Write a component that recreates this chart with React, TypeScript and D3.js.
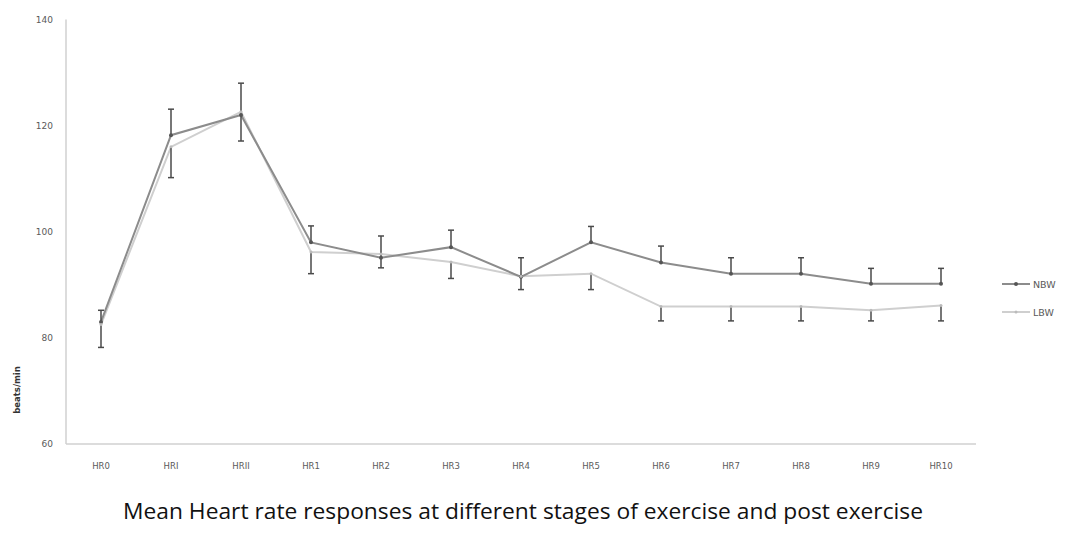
import { scaleBand, scaleLinear, line } from 'd3';

const WIDTH = 1066;
const HEIGHT = 535;

const categories = ['HR0', 'HRI', 'HRII', 'HR1', 'HR2', 'HR3', 'HR4', 'HR5', 'HR6', 'HR7', 'HR8', 'HR9', 'HR10'];
const nbwValues = [83, 118.2, 122, 98, 95.1, 97.1, 91.5, 98, 94.2, 92.1, 92.1, 90.2, 90.2];
const nbwErrors = [2.2, 4.9, 6, 3.1, 4.1, 3.2, 3.6, 3, 3.1, 3, 3, 2.9, 2.9];
const lbwValues = [82.5, 116, 122.6, 96.2, 95.8, 94.3, 91.6, 92.1, 85.9, 85.9, 85.9, 85.2, 86.1];
const lbwErrors = [4.3, 5.8, 5.5, 4.1, 2.6, 3.1, 2.5, 3, 2.7, 2.7, 2.7, 2, 2.9];
const yTicks = [60, 80, 100, 120, 140];

const AXIS = '#d0d0d0';
const NBW_COLOR = '#8c8c8c';
const LBW_COLOR = '#cfcfcf';
const BAR_COLOR = '#4a4a4a';
const TEXT = '#5a5a5a';

export default function App() {
  const x = scaleBand<string>().domain(categories).range([66, 976]);
  const y = scaleLinear().domain([60, 140]).range([444, 19.5]);
  const cx = (c: string) => (x(c) ?? 0) + x.bandwidth() / 2;

  const lineGen = line<number>()
    .x((_, i) => cx(categories[i]))
    .y(d => y(d));

  return (
    <svg width={WIDTH} height={HEIGHT} style={{ position: 'absolute', left: 0, top: 0, background: '#fff' }}>
      {/* axes */}
      <line x1={66} y1={y(140)} x2={66} y2={y(60)} stroke={AXIS} strokeWidth={1.5} />
      <line x1={66} y1={y(60)} x2={976} y2={y(60)} stroke={AXIS} strokeWidth={1.5} />

      {yTicks.map(t => (
        <text key={t} x={53} y={y(t) + 3} textAnchor="end" fontFamily="DejaVu Sans" fontSize={9} fill={TEXT}>
          {t}
        </text>
      ))}
      {categories.map(c => (
        <text key={c} x={cx(c)} y={469} textAnchor="middle" fontFamily="DejaVu Sans" fontSize={8.5} fill={TEXT}>
          {c}
        </text>
      ))}

      <text
        transform="translate(20,390) rotate(-90)"
        textAnchor="middle"
        fontFamily="DejaVu Sans"
        fontWeight="bold"
        fontSize={8.5}
        fill="#333"
      >
        beats/min
      </text>

      {/* series lines */}
      <path d={lineGen(lbwValues) ?? ''} fill="none" stroke={LBW_COLOR} strokeWidth={2} />
      <path d={lineGen(nbwValues) ?? ''} fill="none" stroke={NBW_COLOR} strokeWidth={2} />

      {/* error bars: NBW plus, LBW minus */}
      {categories.map((c, i) => (
        <g key={c} stroke={BAR_COLOR} strokeWidth={1.5}>
          <line x1={cx(c)} x2={cx(c)} y1={y(nbwValues[i])} y2={y(nbwValues[i] + nbwErrors[i])} />
          <line x1={cx(c) - 3} x2={cx(c) + 3} y1={y(nbwValues[i] + nbwErrors[i])} y2={y(nbwValues[i] + nbwErrors[i])} />
          <line x1={cx(c)} x2={cx(c)} y1={y(lbwValues[i])} y2={y(lbwValues[i] - lbwErrors[i])} />
          <line x1={cx(c) - 3} x2={cx(c) + 3} y1={y(lbwValues[i] - lbwErrors[i])} y2={y(lbwValues[i] - lbwErrors[i])} />
        </g>
      ))}

      {/* markers */}
      {categories.map((c, i) => (
        <circle key={c} cx={cx(c)} cy={y(nbwValues[i])} r={2} fill="#555" />
      ))}
      {categories.map((c, i) => (
        <circle key={c} cx={cx(c)} cy={y(lbwValues[i])} r={1.5} fill="#bbb" />
      ))}

      {/* legend */}
      <g fontFamily="DejaVu Sans" fontSize={9.5} fill={TEXT}>
        <line x1={1002} x2={1030} y1={284} y2={284} stroke={NBW_COLOR} strokeWidth={2} />
        <circle cx={1016} cy={284} r={2} fill="#555" />
        <text x={1033} y={287.5}>NBW</text>
        <line x1={1002} x2={1030} y1={312} y2={312} stroke={LBW_COLOR} strokeWidth={2} />
        <circle cx={1016} cy={312} r={1.5} fill="#bbb" />
        <text x={1033} y={315.5}>LBW</text>
      </g>

      <text
        x={523}
        y={519}
        textAnchor="middle"
        fontFamily="Open Sans"
        fontSize={22}
        textLength={800}
        lengthAdjust="spacingAndGlyphs"
        fill="#111"
      >
        Mean Heart rate responses at different stages of exercise and post exercise
      </text>
    </svg>
  );
}
